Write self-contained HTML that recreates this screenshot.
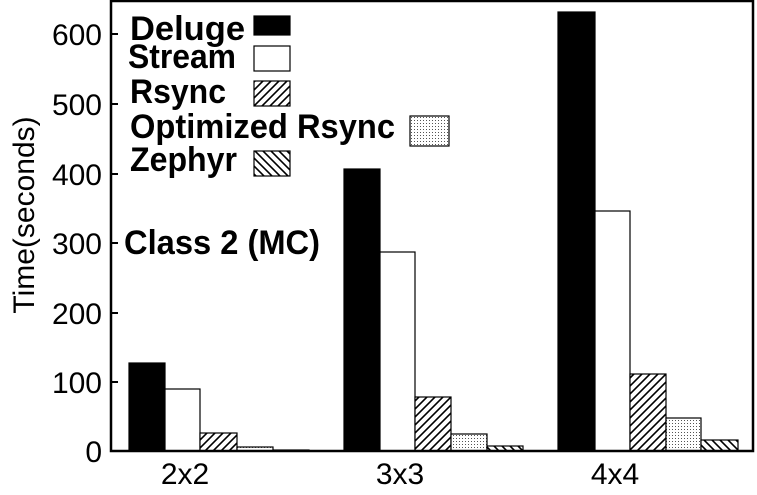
<!DOCTYPE html><html><head><style>body{margin:0;background:#fff}svg{display:block}</style></head><body>
<svg width="757" height="495" xmlns="http://www.w3.org/2000/svg" font-family="Liberation Sans, sans-serif">
<defs>
<pattern id="r" width="8" height="8" patternUnits="userSpaceOnUse"><rect width="8" height="8" fill="#fff"/><path d="M-2,10 L10,-2 M-2,2 L2,-2 M6,10 L10,6" stroke="#000" stroke-width="1.6"/></pattern>
<pattern id="z" width="8" height="8" patternUnits="userSpaceOnUse"><rect width="8" height="8" fill="#fff"/><path d="M-2,-2 L10,10 M-2,6 L2,10 M6,-2 L10,2" stroke="#000" stroke-width="1.6"/></pattern>
<pattern id="d" width="3" height="3" patternUnits="userSpaceOnUse"><rect width="3" height="3" fill="#fff"/><rect width="1" height="1" fill="#555"/></pattern>
</defs>
<g stroke="#000" stroke-width="1.2">
<rect x="129" y="363" width="36" height="88" fill="#000"/>
<rect x="165" y="389" width="35" height="62" fill="#fff"/>
<rect x="200" y="433" width="37" height="18" fill="url(#r)"/>
<rect x="237" y="447" width="36" height="4" fill="url(#d)"/>
<rect x="273" y="450" width="36" height="1" fill="url(#z)"/>
<rect x="344" y="169" width="36" height="282" fill="#000"/>
<rect x="380" y="252" width="35" height="199" fill="#fff"/>
<rect x="415" y="397" width="36" height="54" fill="url(#r)"/>
<rect x="451" y="434" width="36" height="17" fill="url(#d)"/>
<rect x="487" y="446" width="36" height="5" fill="url(#z)"/>
<rect x="558" y="12" width="37" height="439" fill="#000"/>
<rect x="595" y="211" width="35" height="240" fill="#fff"/>
<rect x="630" y="374" width="36" height="77" fill="url(#r)"/>
<rect x="666" y="418" width="35" height="33" fill="url(#d)"/>
<rect x="701" y="440" width="37" height="11" fill="url(#z)"/>
</g>
<rect x="111" y="1" width="642" height="450" fill="none" stroke="#000" stroke-width="2.5"/>
<g stroke="#000" stroke-width="2">
<line x1="111" y1="382" x2="118" y2="382"/><line x1="111" y1="313" x2="118" y2="313"/><line x1="111" y1="243" x2="118" y2="243"/><line x1="111" y1="174" x2="118" y2="174"/><line x1="111" y1="104" x2="118" y2="104"/><line x1="111" y1="34" x2="118" y2="34"/>
</g>
<g font-size="30" text-anchor="end">
<text x="102" y="462">0</text><text x="102" y="393">100</text><text x="102" y="324">200</text><text x="102" y="254">300</text><text x="102" y="185">400</text><text x="102" y="115">500</text><text x="102" y="45">600</text>
</g>
<text transform="translate(34,215) rotate(-90)" font-size="30" text-anchor="middle">Time(seconds)</text>
<g font-size="30" text-anchor="middle">
<text x="185" y="484">2x2</text><text x="400" y="484">3x3</text><text x="615" y="484">4x4</text>
</g>
<g font-size="34" font-weight="bold" lengthAdjust="spacingAndGlyphs">
<text x="130" y="40" textLength="115" lengthAdjust="spacingAndGlyphs">Deluge</text>
<text x="128" y="68" textLength="108" lengthAdjust="spacingAndGlyphs">Stream</text>
<text x="130" y="103" textLength="96" lengthAdjust="spacingAndGlyphs">Rsync</text>
<text x="130" y="138" textLength="265" lengthAdjust="spacingAndGlyphs">Optimized Rsync</text>
<text x="130" y="171" textLength="107" lengthAdjust="spacingAndGlyphs">Zephyr</text>
<text x="124" y="254" textLength="196" lengthAdjust="spacingAndGlyphs">Class 2 (MC)</text>
</g>
<g stroke="#000" stroke-width="1.2">
<rect x="254" y="16" width="36" height="19" fill="#000"/>
<rect x="254" y="46" width="36" height="25" fill="#fff"/>
<rect x="254" y="81" width="36" height="25" fill="url(#r)"/>
<rect x="410" y="116" width="39" height="30" fill="url(#d)"/>
<rect x="254" y="151" width="36" height="25" fill="url(#z)"/>
</g>
</svg>
</body></html>
